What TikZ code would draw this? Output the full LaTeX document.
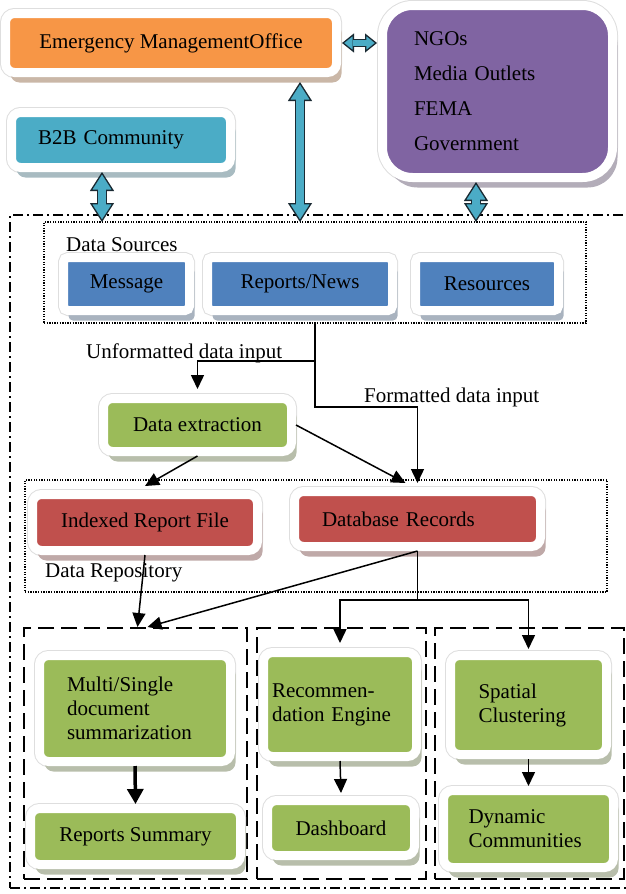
\documentclass[tikz,border=0pt]{standalone}
\usepackage{fontspec}
\setmainfont{Liberation Serif}
\usetikzlibrary{arrows.meta,shadows,calc}
\definecolor{orF}{HTML}{F79646}
\definecolor{puF}{HTML}{8064A2}
\definecolor{cyF}{HTML}{4BACC6}
\definecolor{blF}{HTML}{4F81BD}
\definecolor{reF}{HTML}{C0504D}
\definecolor{grF}{HTML}{9BBB59}
\definecolor{arD}{HTML}{1A2A33}
\newcommand\dblconn[2]{\draw[dbl] #1 -- #2; \draw[dblin] #1 -- #2;}
\begin{document}
\begin{tikzpicture}[x=1pt,y=-1pt,font=\fontsize{21}{24}\selectfont,
  bx/.style={rounded corners=9pt, draw=white, line width=9pt, fill=#1, inner sep=0pt, text=black,
    preaction={draw=black!13, line width=11pt},
    drop shadow={shadow xshift=5pt, shadow yshift=-10pt, fill=#1!50!black!40, opacity=1}},
  dbl/.style={line width=10pt, draw=arD,
    {Triangle[width=24pt,length=19pt,line width=1.3pt,fill=cyF]}-{Triangle[width=24pt,length=19pt,line width=1.3pt,fill=cyF]}},
  dblin/.style={line width=7.4pt, draw=cyF, shorten <=17pt, shorten >=17pt},
  dblh/.style={line width=8.5pt, draw=arD,
    {Triangle[width=19pt,length=12pt,line width=1.3pt,fill=cyF]}-{Triangle[width=19pt,length=12pt,line width=1.3pt,fill=cyF]}},
  dblhin/.style={line width=5.9pt, draw=cyF, shorten <=10.5pt, shorten >=10.5pt},
  arr/.style={line width=1.5pt, -{Triangle[length=14pt,width=13pt]}},
  thickarr/.style={line width=3.5pt, -{Triangle[length=15pt,width=16pt]}},
  lbl/.style={inner sep=0pt, anchor=west},
  dotbox/.style={draw, line width=1.3pt, dash pattern=on 1.3pt off 1.3pt, inner sep=0pt},
  dashbox/.style={draw, line width=2pt, dash pattern=on 16pt off 7pt, inner sep=0pt},
  ddbox/.style={draw, line width=1.6pt, dash pattern=on 10pt off 4pt on 2pt off 4pt, inner sep=0pt}]
\useasboundingbox (0,0) rectangle (626,894);

% frames
\node[ddbox, minimum width=630pt, minimum height=673pt] (outer) at (325,551.5) {};
\node[dotbox, minimum width=542pt, minimum height=101pt] (ds) at (315,272.5) {};
\node[dotbox, minimum width=582pt, minimum height=112pt] (dr) at (316,536) {};
\node[dashbox, minimum width=223pt, minimum height=251pt] (g1) at (135.5,753.5) {};
\node[dashbox, minimum width=169pt, minimum height=251pt] (g2) at (341.5,753.5) {};
\node[dashbox, minimum width=189pt, minimum height=251pt] (g3) at (529.5,753.5) {};

% top boxes
\node[bx=orF, minimum width=331pt, minimum height=59pt] (emo) at (171,43) {Emergency ManagementOffice};
\node[bx=puF, rounded corners=30pt, minimum width=230pt, minimum height=172pt,
  text width=167pt, align=left, font=\fontsize{21}{35}\selectfont] (ngo) at (497.5,91.5)
  {NGOs\\Media Outlets\\FEMA\\Government};
\node[bx=cyF, minimum width=219pt, minimum height=55pt, text width=166pt, align=left] (b2b) at (121,140) {B2B Community};

% data sources
\node[lbl] (dsl) at (66,245) {Data Sources};
\node[bx=blF, rounded corners=4.5pt, minimum width=126pt, minimum height=53pt] (msg) at (126.5,284) {Message};
\node[bx=blF, rounded corners=4.5pt, minimum width=185pt, minimum height=53pt] (rn) at (300,284) {Reports/News};
\node[bx=blF, rounded corners=4.5pt, minimum width=143pt, minimum height=53pt] (res) at (487,284) {Resources};

% extraction and repository
\node[lbl] (ul) at (86,353) {Unformatted data input};
\node[lbl] (fl) at (364,397) {Formatted data input};
\node[bx=grF, minimum width=188pt, minimum height=53pt] (dx) at (197.5,425) {Data extraction};
\node[bx=reF, minimum width=225pt, minimum height=56pt] (irf) at (145,522.5) {Indexed Report File};
\node[bx=reF, minimum width=246pt, minimum height=55pt, text width=191pt, align=left] (db) at (417.5,519) {Database Records};
\node[lbl] (drl) at (45,573) {Data Repository};

% bottom boxes
\node[bx=grF, minimum width=191pt, minimum height=106pt, text width=136pt, align=left] (ms) at (135,708.5)
  {Multi/Single\\document\\summarization};
\node[bx=grF, minimum width=210pt, minimum height=56pt] (rs) at (135.5,836.5) {Reports Summary};
\node[bx=grF, minimum width=153pt, minimum height=104pt, text width=136pt, align=left] (rec) at (340,704.5)
  {Recommen-\\dation Engine};
\node[bx=grF, minimum width=147pt, minimum height=55pt] (dash) at (341,828) {Dashboard};
\node[bx=grF, minimum width=156pt, minimum height=99pt, text width=100pt, align=left] (sc) at (528.5,705)
  {Spatial\\Clustering\\[14pt]};
\node[bx=grF, minimum width=170pt, minimum height=77pt, text width=120pt, align=left] (dyn) at (528.5,829)
  {Dynamic\\Communities};

% double block arrows
\coordinate (vb) at (300,222);
\coordinate (bb) at (102,222);
\coordinate (nb) at (476,222);
\coordinate (vt) at (emo.south -| vb);
\coordinate (bt) at (b2b.south -| bb);
\coordinate (nt) at (ngo.south -| nb);
\coordinate (ee) at (emo.east);
\coordinate (ne) at (emo.east -| ngo.west);
\draw[dblh] ([xshift=1pt]ee) -- ([xshift=-1pt]ne);
\draw[dblhin] ([xshift=1pt]ee) -- ([xshift=-1pt]ne);
\dblconn{([yshift=-5pt]vt)}{(vb)}
\dblconn{(bt)}{(bb)}
\dblconn{(nt)}{(nb)}

% flow arrows
\coordinate (j1) at (ds.south |- 0,361);
\coordinate (j2) at (ds.south |- 0,407);
\coordinate (j3) at (db.south |- 0,600);
\draw[arr] (ds.south) -- (j1) -| ([yshift=5pt]dx.north);
\draw[arr] (j1) -- (j2) -| ([yshift=4pt]db.north);
\draw[arr] (dx.south) -- ([yshift=4pt]irf.north);
\draw[arr] (dx.east) -- ([xshift=-12pt,yshift=4pt]db.north);
\draw[arr] (irf.south) -- ([xshift=2pt]g1.north);
\draw[arr] (db.south) -- ([xshift=12pt]g1.north);
\draw[line width=1.5pt] (db.south) -- (j3);
\draw[arr] (j3) -| ([yshift=5pt]rec.north);
\draw[arr] (j3) -| ([yshift=2pt]sc.north);
\draw[thickarr] (ms.south) -- (rs.north);
\draw[arr] (rec.south) -- ([yshift=3pt]dash.north);
\draw[arr] (sc.south) -- (dyn.north);
\end{tikzpicture}
\end{document}
